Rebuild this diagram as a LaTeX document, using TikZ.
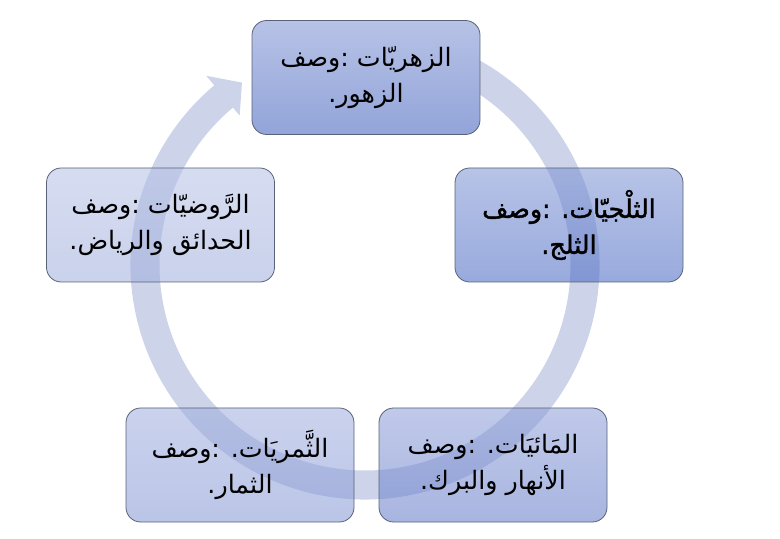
\documentclass[tikz,border=0pt]{standalone}
\usepackage{fontspec}
\newfontfamily\arabicfont[Script=Arabic]{DejaVu Sans}
\newfontfamily\arabicbold[Script=Arabic,FakeBold=1.6]{DejaVu Sans}
\TeXXeTstate=1
\newcommand{\rtl}[1]{\beginR #1\endR}

\definecolor{ringblue}{RGB}{205,212,234}
\definecolor{boxedge}{RGB}{88,98,120}
\definecolor{zahrtop}{RGB}{183,194,230}
\definecolor{zahrbot}{RGB}{146,164,217}
\definecolor{thaljtop}{RGB}{124,146,211}
\definecolor{thaljbot}{RGB}{68,100,193}
\definecolor{maatop}{RGB}{140,157,215}
\definecolor{maabot}{RGB}{97,120,200}
\definecolor{thamartop}{RGB}{159,173,222}
\definecolor{thamarbot}{RGB}{130,149,211}
\definecolor{rawdtop}{RGB}{181,192,228}
\definecolor{rawdbot}{RGB}{157,172,221}

\begin{document}
\begin{tikzpicture}[x=0.75pt,y=0.75pt,
    stagebox/.style={
      draw=boxedge, line width=0.6pt, rounded corners=11pt,
      minimum width=171pt, minimum height=85.5pt, align=center,
      fill opacity=0.55, text opacity=1, draw opacity=1,
      font=\arabicfont\fontsize{19}{27}\selectfont
    },
    ring/.style={fill=ringblue}
  ]
  \useasboundingbox (0,0) rectangle (780,538);
  % the circular arrow, drawn first
  \begin{scope}[shift={(365,273)}]
    \fill [ring] (66:234.5) arc [start angle=66, end angle=-230, radius=175.875pt]
      -- (-230:247) -- (-236:220) -- (-230:195) -- (-230:205.5)
      arc [start angle=-230, end angle=66, radius=154.125pt] -- cycle;
  \end{scope}
  \node [stagebox, fill opacity=1, top color=zahrtop, bottom color=zahrbot] (zahr) at (366,460.5)
    {\rtl{الزهريّات :وصف}\\\rtl{الزهور.}};
  \node [stagebox, top color=thaljtop, bottom color=thaljbot] (thalj) at (569,313)
    {\arabicbold\rtl{الثلْجيّات. :وصف}\\\arabicbold\rtl{الثلج.}};
  \node [stagebox, top color=maatop, bottom color=maabot] (maa) at (493,73)
    {\rtl{المَائيَات. :وصف}\\\rtl{الأنهار والبرك.}};
  \node [stagebox, top color=thamartop, bottom color=thamarbot] (thamar) at (240,73)
    {\rtl{الثَّمريَات. :وصف}\\\rtl{الثمار.}};
  \node [stagebox, top color=rawdtop, bottom color=rawdbot] (rawd) at (160.5,313)
    {\rtl{الرَّوضيّات :وصف}\\\rtl{الحدائق والرياض.}};
\end{tikzpicture}
\end{document}
